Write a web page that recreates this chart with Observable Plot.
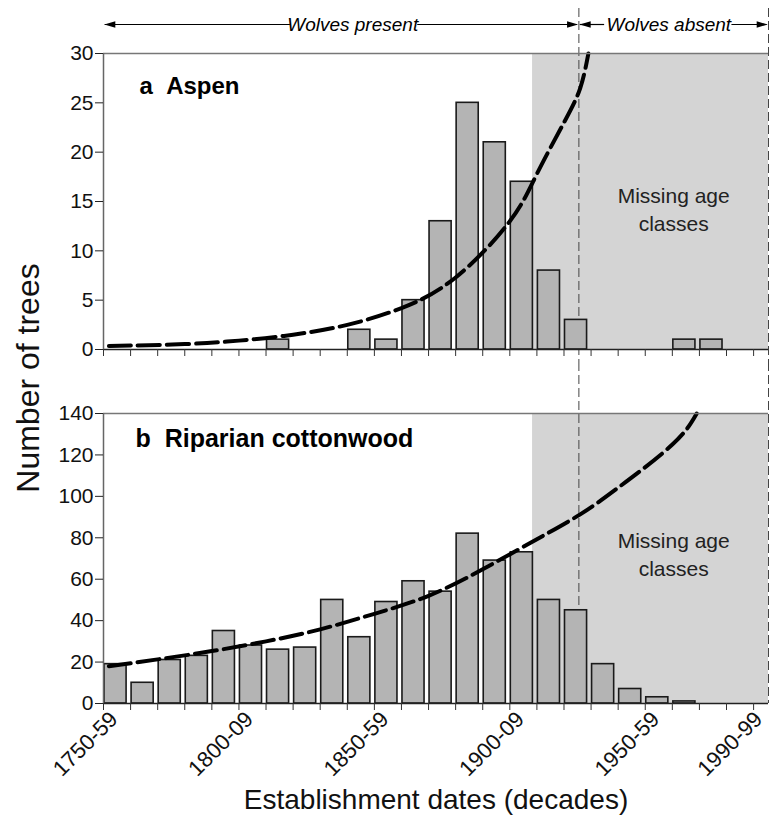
<!DOCTYPE html>
<html><head><meta charset="utf-8">
<script src="https://cdn.jsdelivr.net/npm/d3@7"></script>
<script src="https://cdn.jsdelivr.net/npm/@observablehq/plot@0.6"></script>
<style>
html,body{margin:0;padding:0;background:#fff;}
#chart{position:relative;width:771px;height:819px;overflow:hidden;background:#fff;}
#chart svg{position:absolute;left:0;overflow:visible;}
</style></head><body><div id="chart"></div>
<script>
// ---------- data ----------
const decadeTicks = [1750,1760,1770,1780,1790,1800,1810,1820,1830,1840,1850,1860,1870,1880,1890,1900,1910,1920,1930,1940,1950,1960,1970,1980,1990];
const xLabelYears = [1750, 1800, 1850, 1900, 1950, 1990];
const xLabels = ["1750-59", "1800-09", "1850-59", "1900-09", "1950-59", "1990-99"];

const aspenDecades = [1810, 1840, 1850, 1860, 1870, 1880, 1890, 1900, 1910, 1920, 1960, 1970];
const aspenCounts  = [1, 2, 1, 5, 13, 25, 21, 17, 8, 3, 1, 1];
const aspenYTicks = [0, 5, 10, 15, 20, 25, 30];
const aspenCurveYears  = [1752, 1760, 1780, 1800, 1820, 1840, 1860, 1880, 1900, 1910, 1920, 1926, 1929];
const aspenCurveValues = [0.35, 0.4, 0.55, 0.9, 1.5, 2.5, 4.2, 7.3, 13, 17.8, 23, 26.5, 30];

const cottonwoodDecades = [1750,1760,1770,1780,1790,1800,1810,1820,1830,1840,1850,1860,1870,1880,1890,1900,1910,1920,1930,1940,1950,1960];
const cottonwoodCounts  = [19, 10, 21, 23, 35, 28, 26, 27, 50, 32, 49, 59, 54, 82, 69, 73, 50, 45, 19, 7, 3, 1];
const cottonwoodYTicks = [0, 20, 40, 60, 80, 100, 120, 140];
const cottonwoodCurveYears  = [1752, 1770, 1790, 1810, 1830, 1850, 1870, 1890, 1910, 1926, 1940, 1960, 1969];
const cottonwoodCurveValues = [18, 21.3, 25.3, 30, 35.8, 43.3, 52, 64.8, 79.3, 91.3, 104.2, 125, 140];

const panelTitles = ["a\u00a0\u00a0Aspen", "b\u00a0\u00a0Riparian cottonwood"];
const missingText = "Missing age\nclasses";

// ---------- layout / style ----------
const FONT = '"Liberation Sans", Arial, Helvetica, sans-serif';
const xStart = 1750, xEnd = 1995.5, wolvesGone = 1925.5, shadeStart = 1908.4;
const W = 771, A_H = 362, B_H = 457;

const toBars = (dec, cnt) => dec.map((d, i) => ({decade: d, count: cnt[i]}));
const toPts = (yrs, vals) => yrs.map((y, i) => ({year: y, value: vals[i]}));

const arrowHead = {
  draw(ctx, l, r) { ctx.moveTo(0, -l); ctx.lineTo(-r, 0); ctx.lineTo(r, 0); ctx.closePath(); }
};

function commonMarks(barsData, curveData, yMax, yTicks, insetTop, insetBottom) {
  return [
    Plot.rect([{x1: shadeStart, x2: xEnd, y1: 0, y2: yMax}], {x1: "x1", x2: "x2", y1: "y1", y2: "y2", fill: "#d4d4d4"}),
    Plot.ruleX([wolvesGone, xEnd], {stroke: "#444", strokeWidth: 1, strokeDasharray: "9,4", insetTop, insetBottom}),
    Plot.rect(barsData, {x1: "decade", x2: d => d.decade + 10, y1: d => 0, y2: "count",
      fill: "#b4b4b4", stroke: "#1a1a1a", strokeWidth: 1.6, insetLeft: 1, insetRight: 4}),
    Plot.line(curveData, {x: "year", y: "value", curve: "natural", stroke: "#000", strokeWidth: 4, strokeDasharray: "22,7"}),
    Plot.ruleY([yMax], {stroke: "#777", strokeWidth: 1.5}),
    Plot.ruleY([0], {stroke: "#222", strokeWidth: 1.5}),
    Plot.ruleX([xStart], {stroke: "#666", strokeWidth: 1.5}),
    Plot.axisY({ticks: yTicks, tickSize: 8, tickPadding: 2, fontSize: 21, label: null, stroke: "#222"}),
    Plot.axisX({ticks: decadeTicks, tickSize: 7, tickFormat: () => "", label: null, stroke: "#333"}),
  ];
}

// ---------- panel a ----------
const plotA = Plot.plot({
  width: W, height: A_H,
  marginLeft: 103, marginRight: 3, marginTop: 53, marginBottom: 13,
  x: {domain: [xStart, xEnd]},
  y: {domain: [0, 30]},
  style: {fontFamily: FONT, background: "white", overflow: "visible", color: "#111"},
  marks: [
    ...commonMarks(toBars(aspenDecades, aspenCounts), toPts(aspenCurveYears, aspenCurveValues), 30, aspenYTicks, -45, -13),
    Plot.text([panelTitles[0]], {frameAnchor: "top-left", dx: 36, dy: 33, textAnchor: "start", lineAnchor: "middle", fontWeight: "bold", fontSize: 24, fill: "#000"}),
    Plot.text([missingText], {x: () => 1960.5, y: () => 14.3, fontSize: 21, lineHeight: 1.33, fill: "#222"}),
    // wolves annotation
    Plot.ruleY([{x1: 1750.6, x2: 1819}, {x1: 1866, x2: 1925}, {x1: 1926, x2: 1935}, {x1: 1982, x2: 1995}],
      {x1: "x1", x2: "x2", y: () => 30, dy: -29, stroke: "#000", strokeWidth: 1.2}),
    Plot.vector([{x: 1750.3, r: -90}, {x: 1925.2, r: 90}, {x: 1925.8, r: -90}, {x: 1995.2, r: 90}],
      {x: "x", y: () => 30, dy: -29, rotate: "r", length: 11, r: 3.3, anchor: "end", shape: arrowHead, fill: "#000", stroke: "none"}),
    Plot.text(["Wolves present"], {x: () => 1842, y: () => 30, dy: -29, fontStyle: "italic", fontSize: 19, fill: "#000"}),
    Plot.text(["Wolves absent"], {x: () => 1958.7, y: () => 30, dy: -29, fontStyle: "italic", fontSize: 19, fill: "#000"}),
  ]
});

// ---------- panel b ----------
const labelData = xLabelYears.map((y, i) => ({year: y, label: xLabels[i]}));
const plotB = Plot.plot({
  width: W, height: B_H,
  marginLeft: 103, marginRight: 3, marginTop: 51, marginBottom: 116,
  x: {domain: [xStart, xEnd]},
  y: {domain: [0, 140]},
  style: {fontFamily: FONT, background: "transparent", overflow: "visible", color: "#111"},
  marks: [
    ...commonMarks(toBars(cottonwoodDecades, cottonwoodCounts), toPts(cottonwoodCurveYears, cottonwoodCurveValues), 140, cottonwoodYTicks, -51, 0),
    Plot.text([panelTitles[1]], {frameAnchor: "top-left", dx: 32, dy: 25, textAnchor: "start", lineAnchor: "middle", fontWeight: "bold", fontSize: 25, fill: "#000"}),
    Plot.text([missingText], {x: () => 1960.5, y: () => 72.5, fontSize: 21, lineHeight: 1.33, fill: "#222"}),
    Plot.text(labelData, {x: d => Math.min(d.year + 5, 1993), y: () => 0, text: "label", rotate: -45, textAnchor: "end", lineAnchor: "middle", dx: -3, dy: 12, fontSize: 22, fill: "#111"}),
    Plot.text(["Establishment dates (decades)"], {frameAnchor: "bottom", textAnchor: "middle", lineAnchor: "middle", dy: 97, fontSize: 28, letterSpacing: 0.8, fill: "#111"}),
    Plot.text(["Number of trees"], {frameAnchor: "top-left", textAnchor: "middle", lineAnchor: "middle", dx: -75, dy: -35.5, rotate: -90, fontSize: 32, letterSpacing: 1.5, fill: "#111"}),
  ]
});

const chart = document.getElementById("chart");
plotA.style.top = "0px";
plotB.style.top = A_H + "px";
chart.appendChild(plotA);
chart.appendChild(plotB);
</script>
</body></html>
